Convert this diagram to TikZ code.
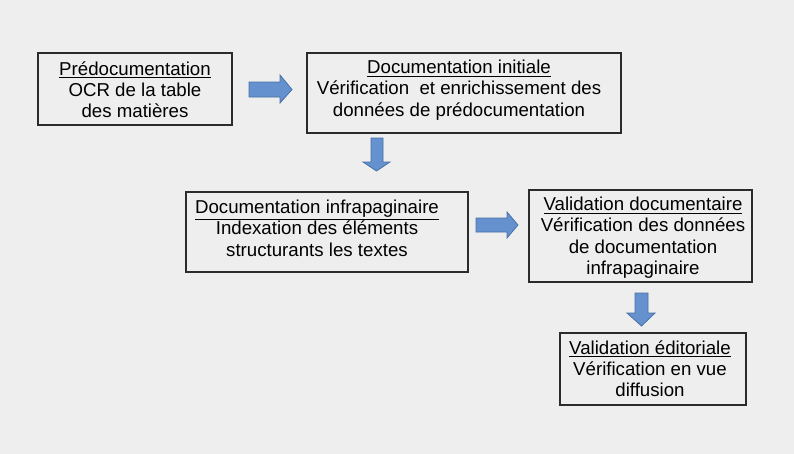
\documentclass[tikz,border=0pt]{standalone}
\usepackage{fontspec}
\setmainfont{Liberation Sans}
\definecolor{bg}{HTML}{EEEEEE}
\definecolor{boxline}{HTML}{2B2B2B}
\definecolor{arrfill}{HTML}{6592CE}
\definecolor{arrline}{HTML}{4670A6}
\begin{document}
\begin{tikzpicture}[x=0.75pt,y=-0.75pt,
  stepbox/.style={draw=boxline,line width=1pt,fill=bg},
  label/.style={anchor=north,inner sep=0pt,align=center,
    font=\fontsize{14}{15.9}\selectfont,text=black},
  blockarrow/.style={fill=arrfill,draw=arrline,line width=0.6pt,line join=miter}]
\fill[bg] (0,0) rectangle (794,454);
\useasboundingbox (0,0) rectangle (794,454);
% boxes
\draw[stepbox] (38,53) rectangle (232,125);
\draw[stepbox] (307,53) rectangle (621,133);
\draw[stepbox] (186,192) rectangle (468,272);
\draw[stepbox] (529,190) rectangle (752,282);
\draw[stepbox] (560,333) rectangle (746,405);
% texts
\node[label] (t1) at (135,61.5) {\underline{Prédocumentation}\\OCR de la table\\des matières};
\node[label] (t2) at (459,60) {\underline{Documentation initiale}\\Vérification\ \ et enrichissement des\\données de prédocumentation};
\node[label] (t3) at (317,200) {\underline{Documentation infrapaginaire}\\Indexation des éléments\\structurants les textes};
\node[label] (t4) at (643,197) {\underline{Validation documentaire}\\Vérification des données\\de documentation\\infrapaginaire};
\node[label] (t5) at (650,340) {\underline{Validation éditoriale}\\Vérification en vue\\diffusion};
% block arrows
\draw[blockarrow] (249,82) -- (280,82) -- (280,75) -- (292,89.5) -- (280,103) -- (280,97) -- (249,97) -- cycle;
\draw[blockarrow] (371,138) -- (383,138) -- (383,162) -- (390,162) -- (376.5,171) -- (363,162) -- (371,162) -- cycle;
\draw[blockarrow] (476,218) -- (507,218) -- (507,212) -- (518,225) -- (507,238) -- (507,232) -- (476,232) -- cycle;
\draw[blockarrow] (635,293) -- (648,293) -- (648,313) -- (655,313) -- (641.5,326) -- (627,313) -- (635,313) -- cycle;
\end{tikzpicture}
\end{document}
